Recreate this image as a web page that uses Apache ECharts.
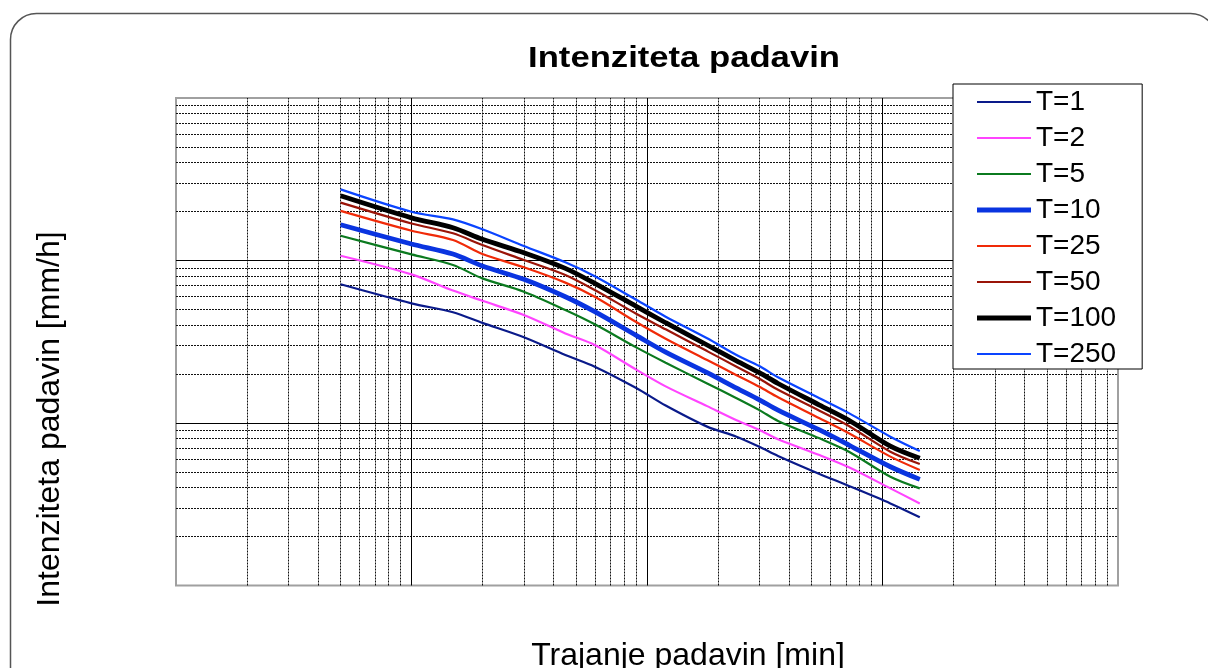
<!DOCTYPE html>
<html>
<head>
<meta charset="utf-8">
<script src="https://cdn.jsdelivr.net/npm/echarts@6/dist/echarts.min.js"></script>
<style>
html,body{margin:0;padding:0;background:#fff;}
#chart{width:1208px;height:668px;}
</style>
</head>
<body>
<div id="chart"></div>
<script>
// Durations [min]
const durations = [5, 10, 15, 20, 30, 45, 60, 90, 120, 180, 240, 300, 360, 540, 720, 1080, 1440];
// Intensities [mm/h] per return period
const t1   = [71.4, 54.5, 48.0, 41.3, 33.7, 26.2, 22.2, 16.4, 12.8, 9.50, 8.24, 7.14, 6.27, 4.86, 4.10, 3.20, 2.63];
const t2   = [107, 82.2, 65.3, 56.5, 46.2, 35.6, 30.2, 21.3, 16.8, 12.7, 10.4, 9.06, 7.94, 6.35, 5.34, 3.96, 3.20];
const t5   = [142, 109, 93.8, 77.6, 64.3, 49.6, 40.5, 29.2, 23.5, 17.5, 14.2, 12.0, 10.3, 8.05, 6.66, 4.67, 3.96];
const t10  = [166, 126.4, 109.6, 92.5, 76.6, 59.8, 48.4, 34.6, 27.3, 20.4, 16.4, 13.9, 12.0, 9.06, 7.32, 5.38, 4.50];
const t25  = [202, 152.5, 133.7, 109.6, 90.8, 73.1, 59.8, 41.8, 33.0, 24.4, 19.7, 16.7, 14.4, 10.7, 8.64, 6.21, 5.14];
const t50  = [227, 169, 147, 124.5, 100.7, 81.4, 65.8, 47.0, 37.7, 27.7, 22.2, 18.7, 16.0, 11.9, 9.59, 6.66, 5.59];
const t100 = [250, 183, 159, 135, 111.7, 89.5, 72.4, 52.2, 41.4, 30.2, 24.1, 20.4, 17.5, 12.9, 10.4, 7.20, 6.06];
const t250 = [274, 199.6, 179, 155.6, 122.8, 97.5, 80.0, 57.3, 45.1, 33.2, 26.2, 22.4, 19.1, 14.2, 11.5, 8.24, 6.72];
const seriesNames = ['T=1', 'T=2', 'T=5', 'T=10', 'T=25', 'T=50', 'T=100', 'T=250'];
const seriesValues = [t1, t2, t5, t10, t25, t50, t100, t250];

// Grid line values (log paper)
const xMajor = [10, 100, 1000];
const xMinor = [2,3,4,5,6,7,8,9, 20,30,40,50,60,70,80,90, 200,300,400,500,600,700,800,900, 2000,3000,4000,5000,6000,7000,8000,9000];
const yMajor = [10, 100];
const yMinor = [2,3,4,5,6,7,8,9, 20,30,40,50,60,70,80,90, 200,300,400,500,600,700,800,900];

// Styles
const colors = ['#0a1a8a', '#ff44ff', '#0b7a1f', '#0a34e0', '#f02a08', '#9a1408', '#000000', '#0a44ff'];
const widths = [2.2, 2.2, 2.2, 4.8, 2.2, 2.2, 4.8, 2.2];

const FONT = 'Liberation Sans, Arial, sans-serif';
const minorStyle = {color: '#111', width: 1, type: [2, 1]};
const majorStyle = {color: '#000', width: 1, type: 'solid'};

const gridLines = []
  .concat(xMinor.map(v => ({xAxis: v, lineStyle: minorStyle})))
  .concat(yMinor.map(v => ({yAxis: v, lineStyle: minorStyle})))
  .concat(xMajor.map(v => ({xAxis: v, lineStyle: majorStyle})))
  .concat(yMajor.map(v => ({yAxis: v, lineStyle: majorStyle})));

const series = [{
  name: '_grid',
  type: 'line',
  data: [[1, 1]],
  symbol: 'none',
  lineStyle: {width: 0, opacity: 0},
  silent: true,
  z: 1,
  markLine: {
    z: 1,
    silent: true,
    symbol: ['none', 'none'],
    label: {show: false},
    emphasis: {disabled: true},
    animation: false,
    data: gridLines
  }
}].concat(seriesNames.map((n, i) => ({
  name: n,
  type: 'line',
  data: durations.map((d, j) => [d, seriesValues[i][j]]),
  symbol: 'none',
  smooth: 0.3,
  lineStyle: {color: colors[i], width: widths[i]},
  itemStyle: {color: colors[i]},
  emphasis: {disabled: true},
  z: 3
})));

const legendData = seriesNames.map((n, i) => ({
  name: n,
  icon: 'path://M0,0H54V' + widths[i] + 'H0Z',
  itemStyle: {color: colors[i]}
}));

const chart = echarts.init(document.getElementById('chart'), null, {renderer: 'canvas'});
chart.setOption({
  animation: false,
  backgroundColor: '#fff',
  grid: {left: 176, top: 98, width: 942, height: 487.5, show: true,
         borderColor: '#a0a0a0', borderWidth: 2, backgroundColor: 'rgba(0,0,0,0)'},
  xAxis: {type: 'log', logBase: 10, min: 1, max: 10000,
          axisLine: {show: false}, axisTick: {show: false}, axisLabel: {show: false},
          splitLine: {show: false}, minorSplitLine: {show: false}},
  yAxis: {type: 'log', logBase: 10, min: 1, max: 1000,
          axisLine: {show: false}, axisTick: {show: false}, axisLabel: {show: false},
          splitLine: {show: false}, minorSplitLine: {show: false}},
  legend: {
    z: 20,
    data: legendData,
    orient: 'vertical',
    left: 953, top: 84,
    padding: [4, 26, 1, 24],
    itemWidth: 54, itemHeight: 14, itemGap: 8,
    symbolKeepAspect: true,
    backgroundColor: '#fff', borderColor: '#000', borderWidth: 1,
    selectedMode: false,
    textStyle: {fontSize: 28, lineHeight: 28, color: '#000', fontFamily: FONT}
  },
  graphic: [
    {type: 'rect', z: -10, silent: true,
     shape: {x: 10.5, y: 13.5, width: 1206, height: 720, r: 26},
     style: {fill: 'none', stroke: '#555', lineWidth: 1.5}},
    {type: 'text', x: 684, y: 59, scaleX: 1.155, silent: true, z: 10,
     style: {text: 'Intenziteta padavin', x: 0, y: 0, fill: '#000',
             font: 'bold 30px ' + FONT, align: 'center', verticalAlign: 'middle'}},
    {type: 'text', x: 688, y: 656, silent: true, z: 10,
     style: {text: 'Trajanje padavin [min]', x: 0, y: 0, fill: '#000',
             font: '32px ' + FONT, align: 'center', verticalAlign: 'middle'}},
    {type: 'text', x: 50, y: 419, rotation: Math.PI / 2, silent: true, z: 10,
     style: {text: 'Intenziteta padavin [mm/h]', x: 0, y: 0, fill: '#000',
             font: '32px ' + FONT, align: 'center', verticalAlign: 'middle'}}
  ],
  series: series
});
</script>
</body>
</html>
